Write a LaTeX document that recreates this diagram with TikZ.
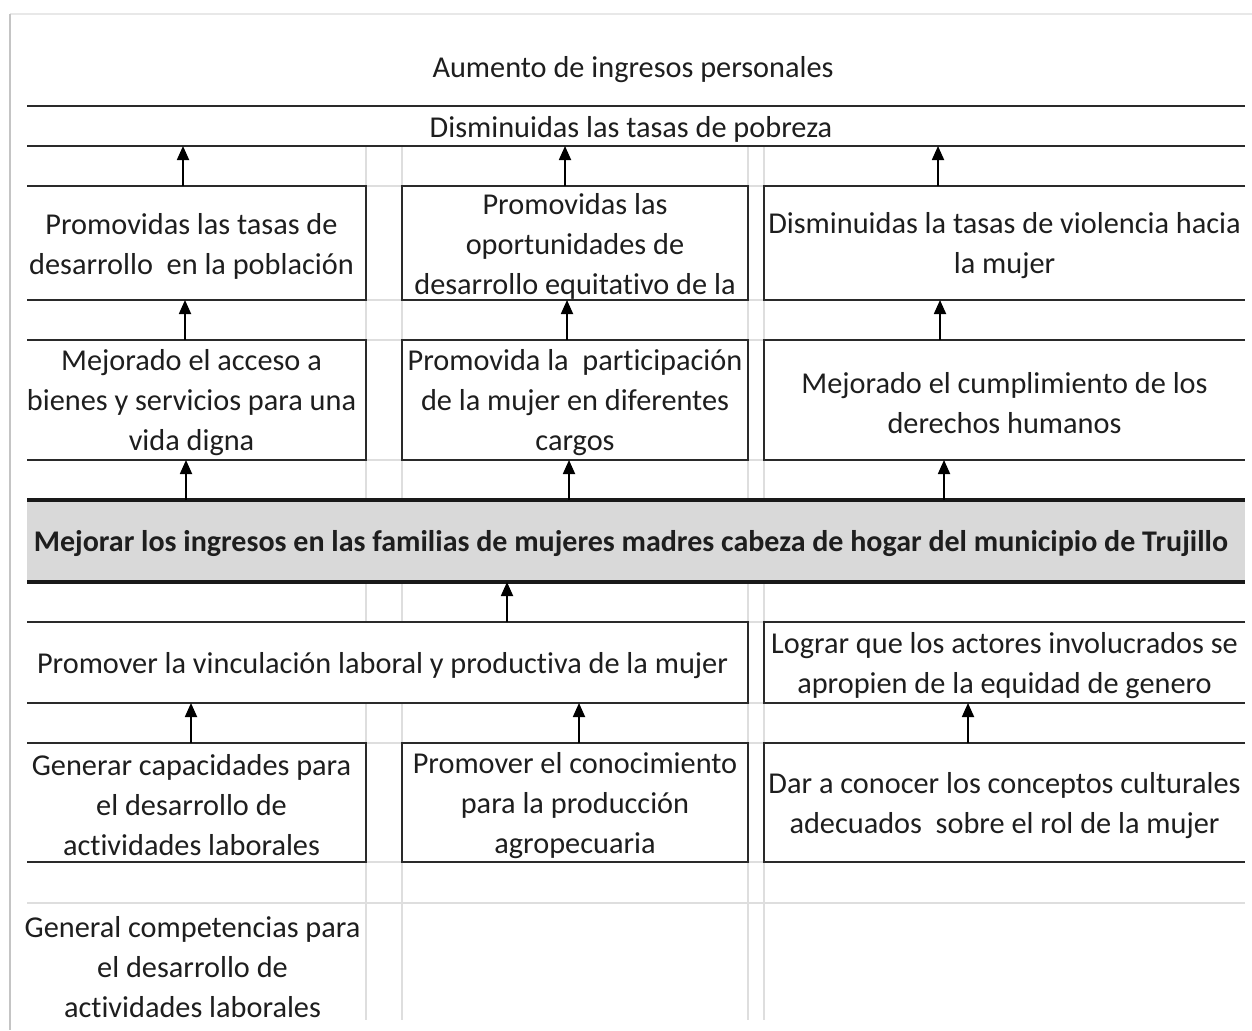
\documentclass[tikz,border=0pt]{standalone}
\usepackage{fontspec}
\setmainfont{Carlito}[Ligatures={NoCommon}]
\usetikzlibrary{arrows.meta}
\definecolor{ink}{HTML}{1E1E1E}
\definecolor{edge}{HTML}{2A2A2A}
\definecolor{gridc}{HTML}{DEDEDE}
\definecolor{framec}{HTML}{C4C4C4}
\definecolor{framet}{HTML}{E8E8E8}
\definecolor{barfill}{HTML}{D9D9D9}
\begin{document}
\begin{tikzpicture}[x=1pt,y=-1pt,
  txt/.style={font=\fontsize{30.3}{40}\selectfont, text=ink, align=center, inner sep=0pt, outer sep=0pt},
  boxn/.style={fill=white, inner sep=0pt, outer sep=0pt},
  boxline/.style={draw=edge, line width=2pt},
  thickline/.style={draw=black!90, line width=4pt},
  gridline/.style={draw=gridc, line width=1.2pt},
  arr/.style={draw=black, line width=1.8pt, -{Triangle[length=14pt,width=12pt]}}]
\useasboundingbox (0,0) rectangle (1252,1030);
\fill[white] (0,0) rectangle (1252,1030);
% frame of the screenshot
\draw[framet, line width=2pt] (10,14) -- (1252,14);
\draw[framec, line width=2pt] (10,14) -- (10,1030);
% light spreadsheet grid
\foreach \gx in {366,402,748,764} \draw[gridline] (\gx,146) -- (\gx,1020);
\foreach \gy in {146,186,300,340,460,500,582,622,703,743,862,903} \draw[gridline] (27,\gy) -- (1245,\gy);

% box nodes (geometry)
\node[boxn, minimum width=1228pt, minimum height=40pt] (dis) at (631,126) {};
\node[boxn, minimum width=349pt, minimum height=114pt] (p1) at (191.5,243) {};
\node[boxn, minimum width=346pt, minimum height=114pt] (p2) at (575,243) {};
\node[boxn, minimum width=481pt, minimum height=114pt] (p3) at (1004.5,243) {};
\node[boxn, minimum width=349pt, minimum height=120pt] (r1) at (191.5,400) {};
\node[boxn, minimum width=346pt, minimum height=120pt] (r2) at (575,400) {};
\node[boxn, minimum width=481pt, minimum height=120pt] (r3) at (1004.5,400) {};
\node[boxn, fill=none, minimum width=1228pt, minimum height=82pt] (bar) at (631,541) {};
\fill[barfill] ([xshift=10pt]bar.north west) rectangle (bar.south east);
\node[boxn, minimum width=731pt, minimum height=81pt] (s1) at (382.5,662.5) {};
\node[boxn, minimum width=481pt, minimum height=81pt] (s2) at (1004.5,662.5) {};
\node[boxn, minimum width=349pt, minimum height=119pt] (t1) at (191.5,802.5) {};
\node[boxn, minimum width=346pt, minimum height=119pt] (t2) at (575,802.5) {};
\node[boxn, minimum width=481pt, minimum height=119pt] (t3) at (1004.5,802.5) {};

% texts
\node[txt] (aum) at (633,70) {Aumento de ingresos personales};
\node[txt] (dist) at ([yshift=-3pt]dis.center) {Disminuidas las tasas de pobreza};
\node[txt] (p1t) at ([yshift=-3pt]p1.center) {Promovidas las tasas de\\desarrollo \ en la población};
\node[txt] (p2t) at ([yshift=-3pt]p2.center) {Promovidas las\\oportunidades de\\desarrollo equitativo de la};
\node[txt] (p3t) at ([yshift=-3pt]p3.center) {Disminuidas la tasas de violencia hacia\\la mujer};
\node[txt] (r1t) at ([yshift=-3pt]r1.center) {Mejorado el acceso a\\bienes y servicios para una\\vida digna};
\node[txt] (r2t) at ([yshift=-3pt]r2.center) {Promovida la \ participación\\de la mujer en diferentes\\cargos};
\node[txt] (r3t) at ([yshift=-3pt]r3.center) {Mejorado el cumplimiento de los\\derechos humanos};
\node[txt, font=\fontsize{30}{40}\selectfont\bfseries] (bart) at ([yshift=-3pt]bar.center) {Mejorar los ingresos en las familias de mujeres madres cabeza de hogar del municipio de Trujillo};
\node[txt] (s1t) at ([yshift=-3pt]s1.center) {Promover la vinculación laboral y productiva de la mujer};
\node[txt] (s2t) at ([yshift=-3pt]s2.center) {Lograr que los actores involucrados se\\apropien de la equidad de genero};
\node[txt] (t1t) at ([yshift=-3pt]t1.center) {Generar capacidades para\\el desarrollo de\\actividades laborales};
\node[txt] (t2t) at ([yshift=-3pt]t2.center) {Promover el conocimiento\\para la producción\\agropecuaria};
\node[txt] (t3t) at ([yshift=-3pt]t3.center) {Dar a conocer los conceptos culturales\\adecuados \ sobre el rol de la mujer};
\node[txt] (u1) at (192.5,967) {General competencias para\\el desarrollo de\\actividades laborales};

% borders
\draw[boxline] ([xshift=10pt]dis.north west) -- (dis.north east);
\draw[boxline] ([xshift=10pt]dis.south west) -- (dis.south east);
\foreach \n in {p1,r1,s1,t1}
  \draw[boxline] ([xshift=10pt]\n.north west) -- (\n.north east) -- (\n.south east) -- ([xshift=10pt]\n.south west);
\foreach \n in {p3,r3,s2,t3}
  \draw[boxline] (\n.north east) -- (\n.north west) -- (\n.south west) -- (\n.south east);
\foreach \n in {p2,r2,t2}
  \draw[boxline] (\n.north west) rectangle (\n.south east);
\draw[thickline] ([xshift=10pt]bar.north west) -- (bar.north east);
\draw[thickline] ([xshift=10pt]bar.south west) -- (bar.south east);

% arrows
\draw[arr] (p1.north -| 183,0) -- (dis.south -| 183,0);
\draw[arr] (p2.north -| 565,0) -- (dis.south -| 565,0);
\draw[arr] (p3.north -| 938,0) -- (dis.south -| 938,0);
\draw[arr] (r1.north -| 185,0) -- (p1.south -| 185,0);
\draw[arr] (r2.north -| 567,0) -- (p2.south -| 567,0);
\draw[arr] (r3.north -| 940,0) -- (p3.south -| 940,0);
\draw[arr] (bar.north -| 186,0) -- (r1.south -| 186,0);
\draw[arr] (bar.north -| 569,0) -- (r2.south -| 569,0);
\draw[arr] (bar.north -| 944,0) -- (r3.south -| 944,0);
\draw[arr] (s1.north -| 507,0) -- (bar.south -| 507,0);
\draw[arr] (t1.north -| 191,0) -- (s1.south -| 191,0);
\draw[arr] (t2.north -| 579,0) -- (s1.south -| 579,0);
\draw[arr] (t3.north -| 968,0) -- (s2.south -| 968,0);
\end{tikzpicture}
\end{document}
